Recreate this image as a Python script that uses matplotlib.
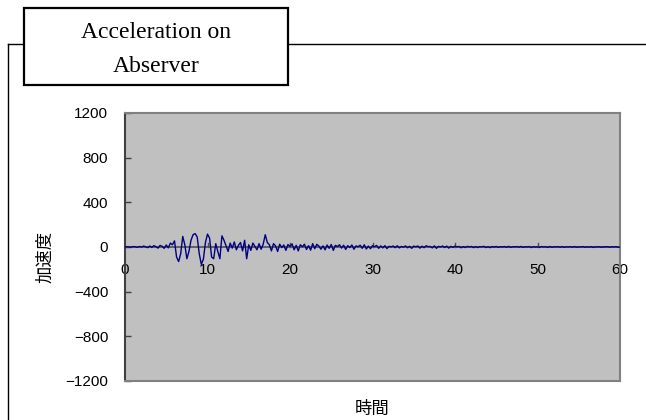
import numpy as np
import matplotlib.pyplot as plt
from matplotlib.patches import Rectangle
from matplotlib.lines import Line2D

# acceleration samples every 0.25 s
dt = 0.25
accel = [
    0, 3, 1, -2, 4, 2, -3, 5, -1, 8, 2, -6, 9, -4, 12, 3, -10, 14, 6, -12,
    18, -8, 35, 20, 55, -90, -130, -60, 95, 20, -105, -40, 60, 110, 120, 90, -60, -155, -110, 40,
    115, 80, -90, -105, 30, -40, -105, 100, 60, 10, -40, 35, -10, 45, -25, 15, 40, -35, 60, -105,
    20, -30, 35, 5, -25, 30, -20, 25, 110, 40, 20, -35, 30, 10, -40, 25, -5, 18, -30, 22,
    5, 28, -25, 15, -35, 20, 2, 25, -22, 12, -28, 30, -15, 24, 8, -20, 10, -25, 18, -12,
    22, -30, 15, 4, 20, -10, 16, -22, 12, -5, 18, -20, 10, 2, 16, -12, 20, -18, 8, -15,
    12, 3, 14, -12, 10, -8, 12, -14, 6, 1, 9, -6, 11, -8, 5, -2, 10, -7, 6, -12,
    8, 2, 9, -10, 7, -6, 11, 3, 5, -8, 10, -12, 6, 0, 9, -5, 8, -10, 6, -4,
    7, 1, 5, -7, 4, -5, 6, 0, 5, -6, 4, -5, 3, 1, 6, -5, 3, -6, 4, -1,
    5, -4, 3, 0, 4, -3, 6, -4, 3, 1, 4, -2, 5, -4, 3, 0, 4, -5, 3, -1,
    2, -3, 4, 0, 3, -4, 5, -3, 2, 1, 3, -2, 4, -3, 2, 0, 3, -2, 4, -3,
    2, 0, 4, -3, 2, -1, 3, -4, 2, 0, 3, -3, 2, 1, 3, -2, 2, 0, 3, -2,
    0,
]
t = np.arange(len(accel)) * dt

xticks = [0, 10, 20, 30, 40, 50, 60]
yticks = [-1200, -800, -400, 0, 400, 800, 1200]
ytick_labels = ['−1200', '−800', '−400', '0', '400', '800', '1200']

W, H = 646, 420
fig = plt.figure(figsize=(W / 100, H / 100), dpi=100)
ax = fig.add_axes([125 / W, 1 - 381 / H, 495 / W, 268 / H])
ax.set_facecolor('#c0c0c0')

ax.plot(t, accel, color='#000080', lw=1.0, zorder=3)

ax.set_xlim(0, 60)
ax.set_ylim(-1200, 1200)

for s in ['top', 'right', 'bottom']:
    ax.spines[s].set_color('#808080')
    ax.spines[s].set_linewidth(1.5)
ax.spines['left'].set_color('#404040')
ax.spines['left'].set_linewidth(1.5)

# x axis crosses at y=0
ax.axhline(0, color='#505050', lw=1.2, zorder=2)
ax.set_xticks(xticks)
ax.set_xticklabels([str(v) for v in xticks])
ax.tick_params(axis='x', length=0, pad=0)
for v in xticks[1:]:
    ax.plot([v, v], [0, 40], color='#505050', lw=1, zorder=2)
for lab in ax.get_xticklabels():
    lab.set_y(0.5 - 0.085)
    lab.set_verticalalignment('center')

ax.set_yticks(yticks)
ax.set_yticklabels(ytick_labels)
ax.tick_params(axis='y', direction='in', length=4, width=1, color='#404040', pad=12)

for lab in ax.get_xticklabels() + ax.get_yticklabels():
    lab.set_family(['Liberation Sans', 'DejaVu Sans'])
    lab.set_fontsize(11)

fig.text(45 / W, 1 - 257 / H, '加速度', rotation=90, ha='center', va='center',
         family=['Noto Sans CJK JP', 'DejaVu Sans'], fontsize=12.5)
fig.text(372 / W, 1 - 409 / H, '時間', ha='center', va='center',
         family=['Noto Sans CJK JP', 'DejaVu Sans'], fontsize=12.5)

# outer frame lines
fig.add_artist(Line2D([8 / W, 1], [1 - 44 / H, 1 - 44 / H], color='black', lw=1))
fig.add_artist(Line2D([8 / W, 8 / W], [0, 1 - 44 / H], color='black', lw=1))

# title box
fig.add_artist(Rectangle((24 / W, 1 - 85 / H), 264 / W, 77 / H, transform=fig.transFigure,
                         facecolor='white', edgecolor='black', lw=1.6, zorder=5))
fig.text(156 / W, 1 - 33 / H, 'Acceleration on', ha='center', va='center',
         family='Liberation Serif', fontsize=17, zorder=6)
fig.text(156 / W, 1 - 67 / H, 'Abserver', ha='center', va='center',
         family='Liberation Serif', fontsize=17, zorder=6)

fig.savefig('out.png', dpi=100)
